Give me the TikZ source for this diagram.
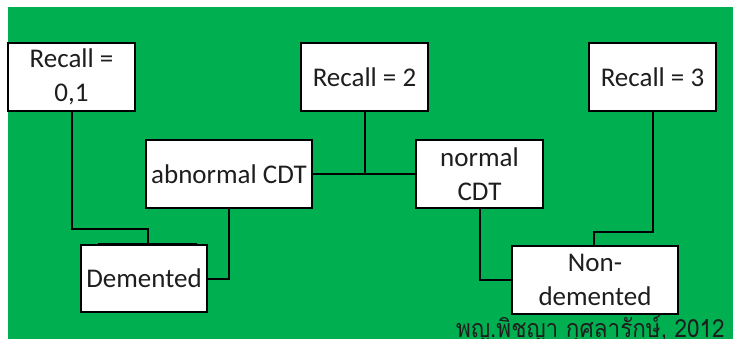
\documentclass[tikz,border=0pt]{standalone}
\usepackage{fontspec}
\setmainfont{Carlito}
\newfontfamily\thaifont[Script=Thai,FakeStretch=0.9]{Loma}
\definecolor{bggreen}{RGB}{0,176,80}
\definecolor{txtgray}{RGB}{30,30,30}
\begin{document}
\begin{tikzpicture}[x=1pt,y=-1pt,
  box/.style={draw=black, line width=2pt, fill=white, inner sep=0pt, align=center,
    font=\fontsize{27}{34}\selectfont, text=txtgray},
  conn/.style={draw=black, line width=2pt}]
\useasboundingbox (0,0) rectangle (733,339);
\fill[white] (0,0) rectangle (733,339);
\fill[bggreen] (8,7) rectangle (733,339);
% boxes
\node[box, minimum width=127pt, minimum height=68pt] (r01) at (71.5,77) {Recall =\\0,1};
\node[box, minimum width=127pt, minimum height=68pt] (r2) at (364.5,77) {Recall = 2};
\node[box, minimum width=127pt, minimum height=68pt] (r3) at (652.5,77) {Recall = 3};
\node[box, minimum width=166pt, minimum height=68pt] (abn) at (229,174) {abnormal CDT};
\node[box, minimum width=127pt, minimum height=68pt] (nor) at (479.5,174) {normal\\CDT};
\node[box, minimum width=126pt, minimum height=67pt] (dem) at (144,278.5) {Demented};
\node[box, minimum width=166pt, minimum height=68pt] (non) at (595,280) {Non-\\demented};
% connectors
\coordinate (c1) at (148,229);
\coordinate (c2) at (594,232);
\draw[conn] (r01.south) |- (c1) -- (c1 |- dem.north);
\draw[conn] (abn.south) |- (dem.east);
\draw[conn] (abn.east) -- (nor.west);
\draw[conn] (r2.south) -- (r2.south |- abn.east);
\draw[conn] (nor.south) |- (non.west);
\draw[conn] (r3.south) |- (c2) -- (c2 |- non.north);
\coordinate (d1) at (98,243.5);
\coordinate (d2) at (197,243.5);
\draw[conn, line width=1.5pt] (d1) -- (d2);
% credit
\node[anchor=base west, inner sep=0pt, text=txtgray, font=\thaifont\fontsize{25}{29}\selectfont] (credit) at (456,337) {พญ.พิชญา กุศลารักษ์, 2012};
\end{tikzpicture}
\end{document}
